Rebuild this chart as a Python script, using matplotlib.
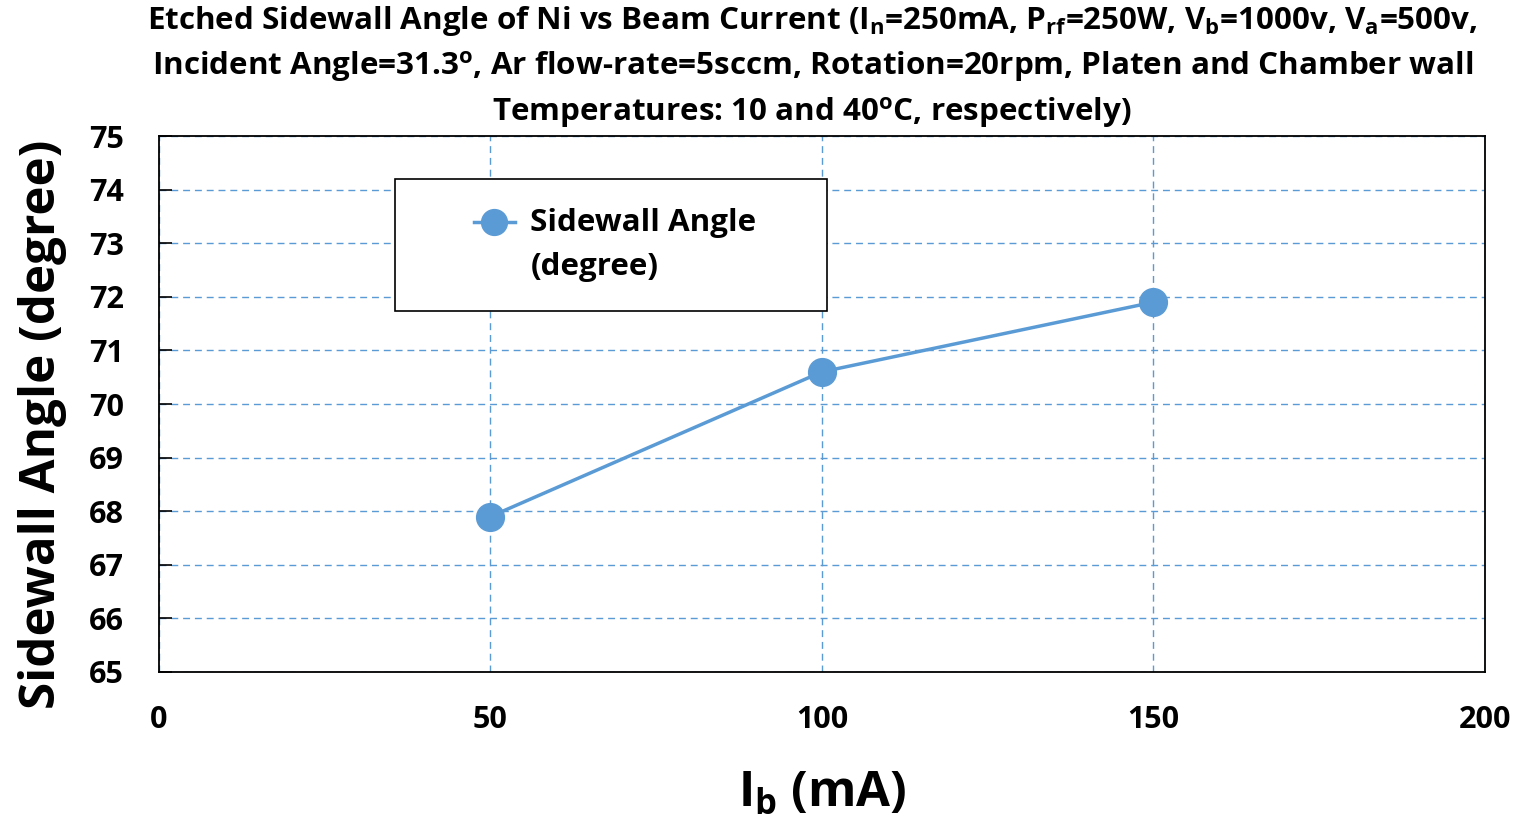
import matplotlib
matplotlib.use("Agg")
import matplotlib.pyplot as plt
from matplotlib.patches import Rectangle
from matplotlib.legend_handler import HandlerLine2D

beam_current = [50, 100, 150]
sidewall_angle = [67.9, 70.6, 71.9]
x_ticks = [0, 50, 100, 150, 200]
y_ticks = [65, 66, 67, 68, 69, 70, 71, 72, 73, 74, 75]

plt.rcParams['font.family'] = ['Open Sans', 'DejaVu Sans']
plt.rcParams['font.weight'] = 'bold'
plt.rcParams['mathtext.fontset'] = 'custom'
plt.rcParams['mathtext.rm'] = 'Open Sans:bold'
plt.rcParams['mathtext.it'] = 'Open Sans:bold'
plt.rcParams['mathtext.bf'] = 'Open Sans:bold'


class TopAlignedHandler(HandlerLine2D):
    """Place the legend handle at the first text line."""
    def create_artists(self, legend, orig_handle, xdescent, ydescent, width,
                       height, fontsize, trans):
        return super().create_artists(legend, orig_handle, xdescent,
                                      ydescent - 33, width, height,
                                      fontsize, trans)


color = '#5B9BD5'
fig = plt.figure(figsize=(15.21, 8.22), dpi=100)
ax = fig.add_axes([0.1045, 0.1825, 0.8718, 0.652])

line, = ax.plot(beam_current, sidewall_angle, color=color, lw=2.5, marker='o',
                markersize=20, label='Sidewall Angle\n(degree)', zorder=3)

ax.set_xlim(0, 200)
ax.set_ylim(65, 75)
ax.set_xticks(x_ticks)
ax.set_yticks(y_ticks)
ax.grid(True, color=color, linestyle=(0, (5, 3.5)), linewidth=1.0)
for s in ax.spines.values():
    s.set_linewidth(1.3)
    s.set_color('black')
ax.tick_params(axis='y', direction='in', length=9, width=1.2, labelsize=22, pad=25)
ax.tick_params(axis='x', length=0, labelsize=22, pad=24)
for lab in ax.get_xticklabels() + ax.get_yticklabels():
    lab.set_fontweight('bold')

ax.set_xlabel(r'I$_\mathrm{b}$ (mA)', fontsize=35.5, fontweight='bold')
ax.set_ylabel('Sidewall Angle (degree)', fontsize=35.5, fontweight='bold')
ax.xaxis.set_label_coords(0.5, -0.228)
ax.yaxis.set_label_coords(-0.088, 0.463)
ax.xaxis.label.set_va('center')
ax.yaxis.label.set_va('center')

title = (r'Etched Sidewall Angle of Ni vs Beam Current (I$_\mathrm{n}$=250mA, P$_\mathrm{rf}$=250W, '
         r'V$_\mathrm{b}$=1000v, V$_\mathrm{a}$=500v,' '\n'
         r'Incident Angle=31.3$^\mathrm{o}$, Ar flow-rate=5sccm, Rotation=20rpm, Platen and Chamber wall' '\n'
         r'Temperatures: 10 and 40$^\mathrm{o}$C, respectively)')
fig.text(0.534, 0.9955, title, ha='center', va='top', fontsize=22.6, fontweight='bold',
         linespacing=1.43)

ax.add_patch(Rectangle((0.178, 0.6735), 0.326, 0.246, transform=ax.transAxes,
                       facecolor='white', edgecolor='black', linewidth=1.2, zorder=4))
leg = ax.legend(loc='center', bbox_to_anchor=(0.344, 0.797),
                fontsize=22.6, frameon=False, borderpad=0, borderaxespad=0,
                handlelength=1.3, handletextpad=0.5, markerscale=0.93,
                handler_map={line: TopAlignedHandler()})
leg.set_zorder(5)
for t in leg.get_texts():
    t.set_fontweight('bold')
    t.set_linespacing(1.62)

fig.savefig('out.png', dpi=100)
